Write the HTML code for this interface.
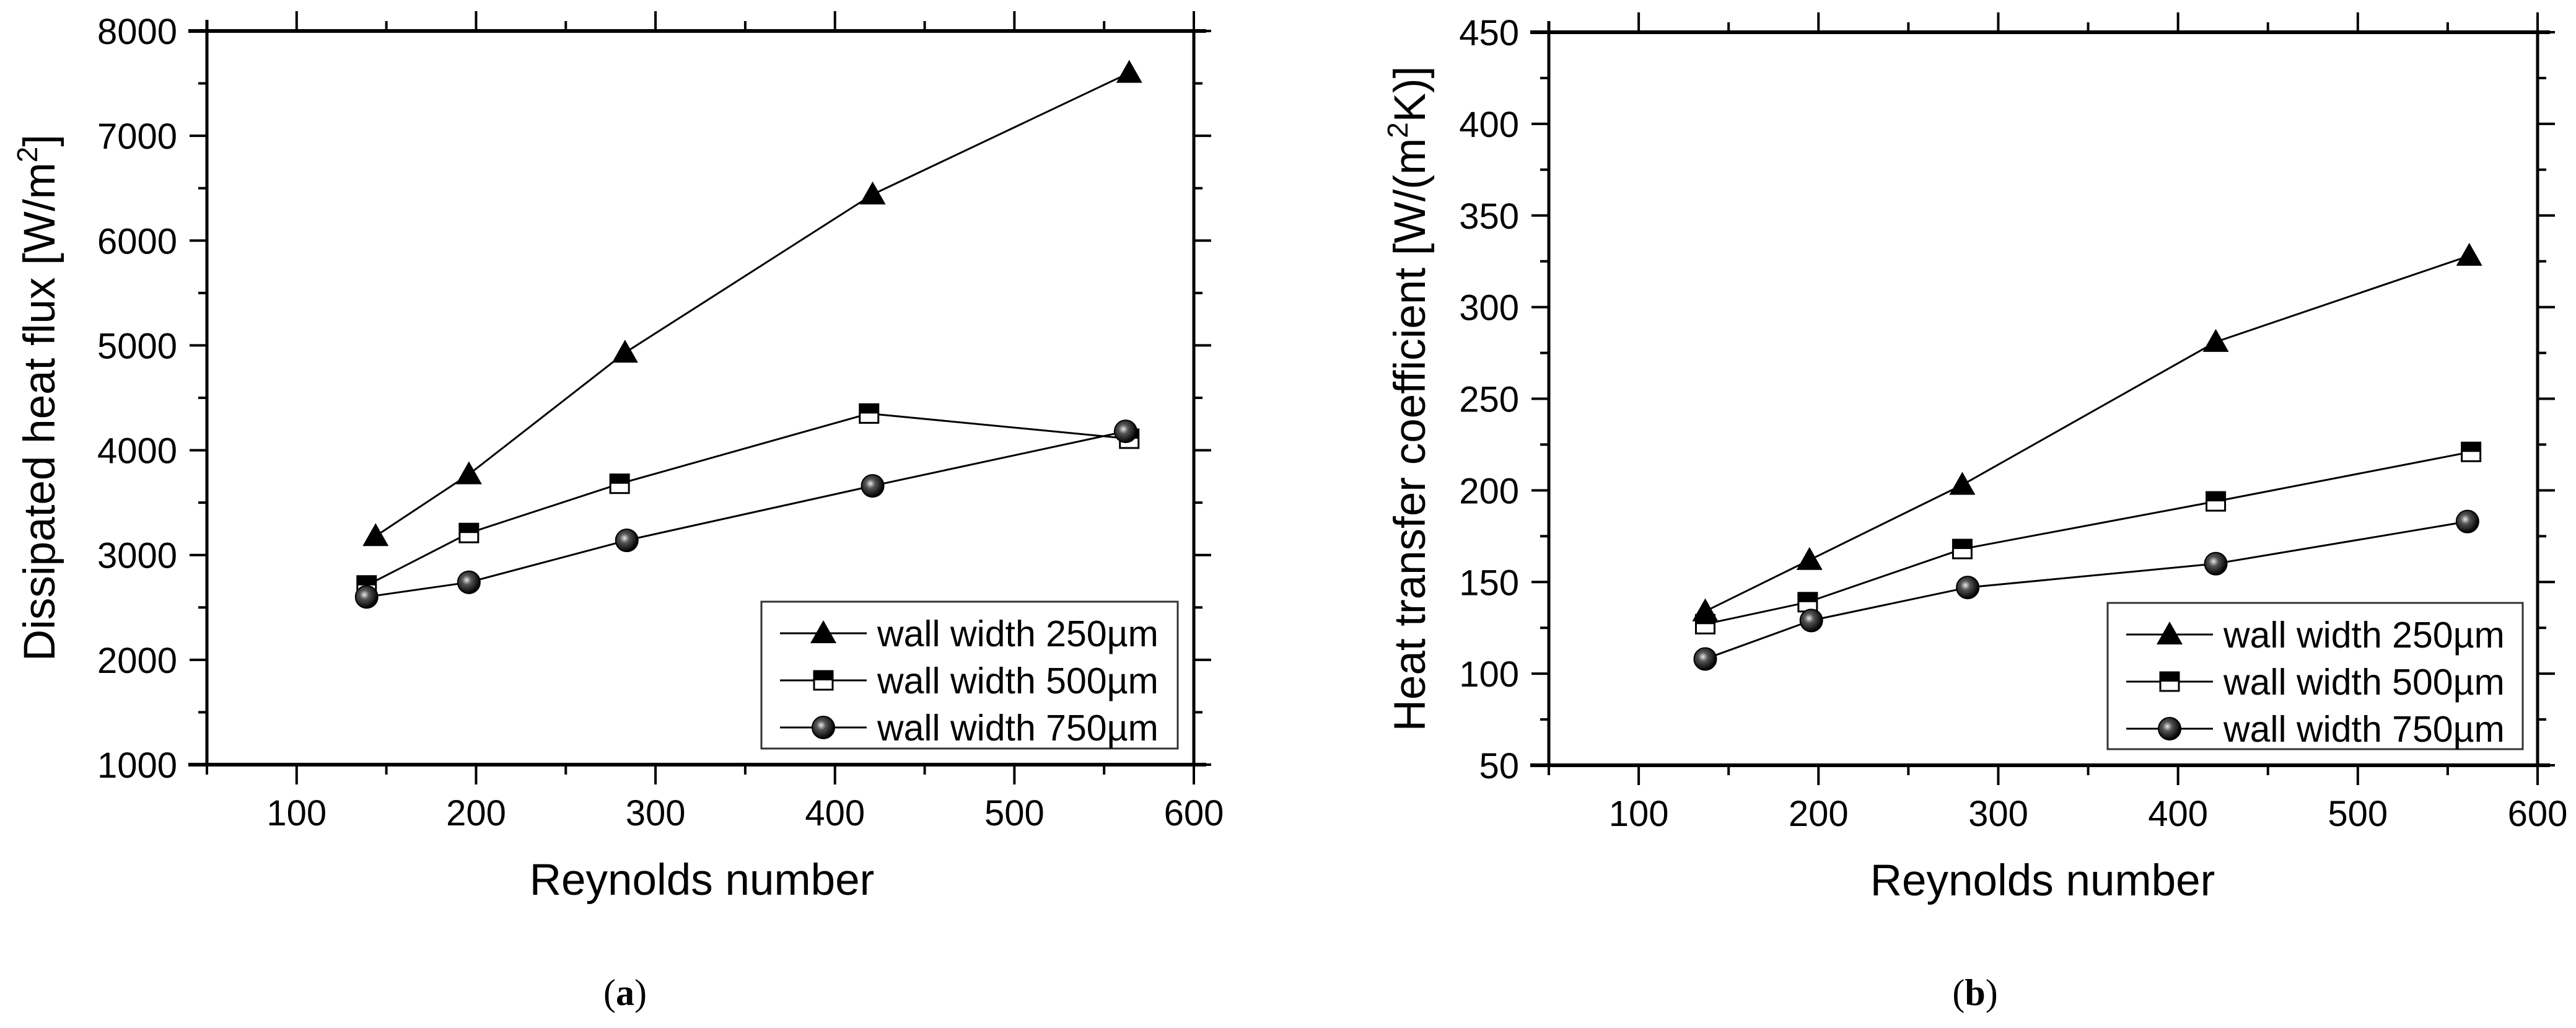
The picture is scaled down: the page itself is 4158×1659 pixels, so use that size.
<!DOCTYPE html>
<html><head><meta charset="utf-8"><style>
html,body{margin:0;padding:0;background:#fff;}
svg{display:block;font-family:"Liberation Sans",Arial,sans-serif;}
</style></head><body>
<svg id="fig" width="4158" height="1659" viewBox="0 0 4158 1659" xmlns="http://www.w3.org/2000/svg">
<defs>
<radialGradient id="ball" cx="0.4" cy="0.4" r="0.6">
<stop offset="0" stop-color="#e8e8e8"/><stop offset="0.35" stop-color="#555"/><stop offset="1" stop-color="#000"/>
</radialGradient>
</defs>
<g id="root"></g>
</svg>
<script>
// ---- data ----
const reA250 = [144, 196, 283, 421, 564];
const qA250 = [3180, 3770, 4930, 6440, 7600];
const reA500 = [139, 196, 280, 419, 564];
const qA500 = [2710, 3210, 3680, 4350, 4110];
const reA750 = [139, 196, 284, 421, 562];
const qA750 = [2600, 2740, 3140, 3660, 4180];

const reB250 = [137, 195, 280, 421, 562];
const hB250 = [134, 162, 203, 281, 328];
const reB500 = [137, 194, 280, 421, 563];
const hB500 = [127, 139, 168, 194, 221];
const reB750 = [137, 196, 283, 421, 561];
const hB750 = [108, 129, 147, 160, 183];

const xTicks = [100, 200, 300, 400, 500, 600];
const yTicksA = [1000, 2000, 3000, 4000, 5000, 6000, 7000, 8000];
const yTicksB = [50, 100, 150, 200, 250, 300, 350, 400, 450];
const legendLabels = ["wall width 250\u00B5m", "wall width 500\u00B5m", "wall width 750\u00B5m"];

const NS = "http://www.w3.org/2000/svg";
const root = document.getElementById("root");
function mk(tag, attrs, parent) {
  const e = document.createElementNS(NS, tag);
  for (const k in attrs) e.setAttribute(k, attrs[k]);
  (parent || root).appendChild(e);
  return e;
}

function marker(g, kind, cx, cy) {
  if (kind === "tri") {
    const m = mk("polygon", {points: `${cx-21},${cy+16} ${cx+21},${cy+16} ${cx},${cy-21}`, fill: "#000"}, g);
    
    
  } else if (kind === "sq") {
    const m = mk("g", {}, g);
    
    
    mk("rect", {x: cx-15, y: cy-15, width: 30, height: 30, fill: "#fff", stroke: "#000", "stroke-width": 3}, m);
    mk("rect", {x: cx-15, y: cy-15, width: 30, height: 15, fill: "#000"}, m);
  } else {
    const m = mk("circle", {cx: cx, cy: cy, r: 18, fill: "url(#ball)", stroke: "#000", "stroke-width": 2}, g);
    
    
  }
}

function panel(cfg) {
  const {L, R, T, B, ymin, ymax, yTicks, yMinorStep, series, name, ytitle, ytitleX, legend, caption, capX, xtitleX} = cfg;
  const g = mk("g", {});
  
  
  const xs = v => L + (v - 50) / 550 * (R - L);
  const ys = v => B - (v - ymin) / (ymax - ymin) * (B - T);

  // frame
  const fr = mk("g", {stroke: "#000", "stroke-linecap": "butt"}, g);
  
  
  mk("line", {x1: L, y1: T - 18, x2: L, y2: B, "stroke-width": 5}, fr);
  mk("line", {x1: R, y1: T, x2: R, y2: B + 2, "stroke-width": 5}, fr);
  mk("line", {x1: L - 30, y1: T, x2: R + 20, y2: T, "stroke-width": 6}, fr);
  mk("line", {x1: L - 30, y1: B, x2: R + 20, y2: B, "stroke-width": 6}, fr);

  // x ticks
  for (let v = 50; v <= 600; v += 50) {
    const major = v % 100 === 0;
    const len = major ? 32 : 16;
    mk("line", {x1: xs(v), y1: B, x2: xs(v), y2: B + len, stroke: "#000", "stroke-width": 4}, g);
    mk("line", {x1: xs(v), y1: T, x2: xs(v), y2: T - len, stroke: "#000", "stroke-width": 4}, g);
  }
  xTicks.forEach(v => {
    const t = mk("text", {x: xs(v), y: B + 98, "font-size": 58, "text-anchor": "middle"}, g);
    t.textContent = v;
    
    
  });
  // y ticks
  for (let v = ymin; v <= ymax + 1e-6; v += yMinorStep) {
    const major = yTicks.includes(v);
    const len = major ? 28 : 14;
    mk("line", {x1: L, y1: ys(v), x2: L - len, y2: ys(v), stroke: "#000", "stroke-width": 4}, g);
    mk("line", {x1: R, y1: ys(v), x2: R + len, y2: ys(v), stroke: "#000", "stroke-width": 4}, g);
  }
  yTicks.forEach(v => {
    const t = mk("text", {x: L - 48, y: ys(v) + 21, "font-size": 58, "text-anchor": "end"}, g);
    t.textContent = v;
    
    
  });

  // series
  series.forEach(s => {
    const sg = mk("g", {}, g);
    
    
    const pts = s.x.map((xv, i) => `${xs(xv)},${ys(s.y[i])}`).join(" ");
    mk("polyline", {points: pts, fill: "none", stroke: "#000", "stroke-width": 3}, sg);
    s.x.forEach((xv, i) => marker(sg, s.kind, xs(xv), ys(s.y[i])));
  });

  // legend
  const lg = mk("g", {}, g);
  
  
  mk("rect", {x: legend.x, y: legend.y, width: legend.w, height: legend.h, fill: "#fff", stroke: "#333", "stroke-width": 3}, lg);
  ["tri", "sq", "circ"].forEach((k, i) => {
    const ry = legend.y + 51 + i * 76;
    const le = mk("g", {}, lg);
    
    
    mk("line", {x1: legend.x + 30, y1: ry, x2: legend.x + 170, y2: ry, stroke: "#000", "stroke-width": 3}, le);
    marker(le, k, legend.x + 100, ry);
    const t = mk("text", {x: legend.x + 187, y: ry + 21, "font-size": 59}, le);
    t.textContent = legendLabels[i];
  });

  // titles
  const xt = mk("text", {x: xtitleX, y: B + 210, "font-size": 71, "text-anchor": "middle"}, g);
  xt.textContent = "Reynolds number";
  
  
  const yt = mk("text", {x: 0, y: 0, "font-size": 71, "text-anchor": "middle", transform: `translate(${ytitleX},${(T + B) / 2}) rotate(-90)`}, g);
  yt.innerHTML = ytitle;
  
  
  const cp = mk("text", {x: capX, y: 1622, "font-size": 60, "text-anchor": "middle", "font-family": "Liberation Serif, serif"}, g);
  cp.innerHTML = caption;
  
  
}

panel({
  name: "panel-a-heat-flux", L: 334, R: 1927, T: 50, B: 1234, ymin: 1000, ymax: 8000,
  yTicks: yTicksA, yMinorStep: 500,
  series: [
    {name: "series-250um", kind: "tri", x: reA250, y: qA250},
    {name: "series-500um", kind: "sq", x: reA500, y: qA500},
    {name: "series-750um", kind: "circ", x: reA750, y: qA750}
  ],
  ytitle: 'Dissipated heat flux [W/m<tspan dy="-28" font-size="46">2</tspan><tspan dy="28">]</tspan>',
  ytitleX: 88, legend: {x: 1229, y: 971, w: 672, h: 237},
  caption: '(<tspan font-weight="bold">a</tspan>)', capX: 1009, xtitleX: 1133
});
panel({
  name: "panel-b-heat-transfer-coefficient", L: 2500, R: 4096, T: 52, B: 1235, ymin: 50, ymax: 450,
  yTicks: yTicksB, yMinorStep: 25,
  series: [
    {name: "series-250um", kind: "tri", x: reB250, y: hB250},
    {name: "series-500um", kind: "sq", x: reB500, y: hB500},
    {name: "series-750um", kind: "circ", x: reB750, y: hB750}
  ],
  ytitle: 'Heat transfer coefficient [W/(m<tspan dy="-28" font-size="46">2</tspan><tspan dy="28">K)]</tspan>',
  ytitleX: 2300, legend: {x: 3402, y: 973, w: 670, h: 236},
  caption: '(<tspan font-weight="bold">b</tspan>)', capX: 3188, xtitleX: 3297
});
</script>
</body></html>
